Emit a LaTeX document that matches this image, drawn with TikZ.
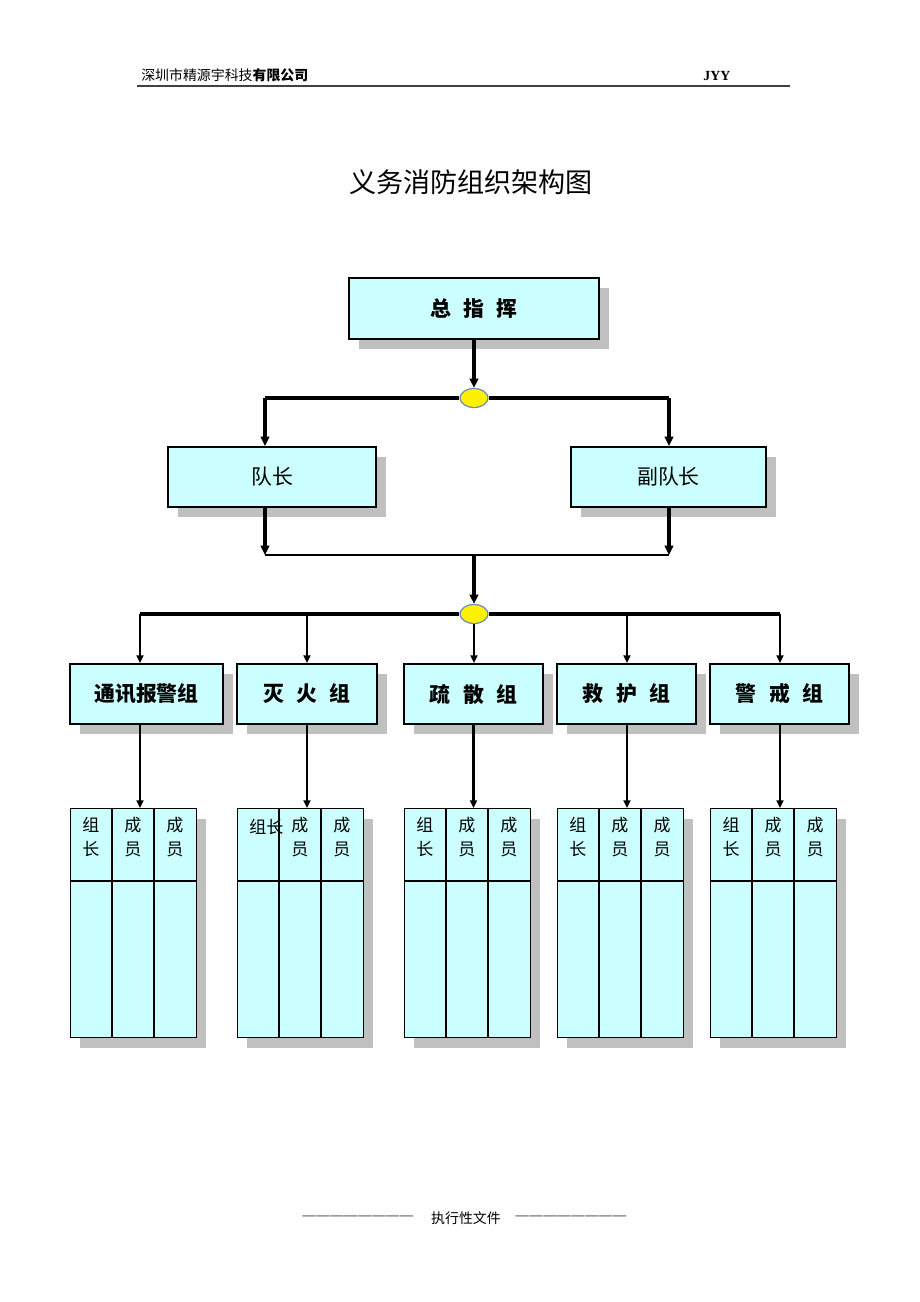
\documentclass[tikz,border=0pt]{standalone}
\usepackage{fontspec}
\setmainfont{Liberation Serif}
\newfontfamily\cjk{Noto Sans CJK SC}
\usetikzlibrary{arrows.meta,shapes.geometric}
\definecolor{boxfill}{RGB}{204,255,255}
\definecolor{shd}{RGB}{192,192,192}
\definecolor{ellb}{RGB}{110,140,190}
\def\px{0.6467pt}
\begin{document}
\begin{tikzpicture}[x=0.6467pt,y=-0.6467pt,
  box/.style={draw=black, line width=1.3pt, fill=boxfill, inner sep=0pt,
    preaction={fill=shd, draw=none, transform canvas={xshift=6.5pt, yshift=-6.5pt}},
    font=\cjk\fontsize{13.5}{15}\selectfont\bfseries},
  tbl/.style={draw=black, line width=0.8pt, fill=boxfill, inner sep=0pt,
    minimum width=126*\px, minimum height=229*\px,
    preaction={fill=shd, draw=none, transform canvas={xshift=5.8pt, yshift=-6.5pt}}},
  junc/.style={ellipse, draw=ellb, line width=0.8pt, fill=yellow, minimum width=28*\px, minimum height=19*\px, inner sep=0pt},
  thick/.style={line width=2pt},
  arr/.style={-{Triangle[length=6pt,width=5.5pt]}},
  sarr/.style={-{Triangle[length=5pt,width=4.5pt]}},
  cell/.style={font=\cjk\fontsize{11}{15.5}\selectfont, align=center, inner sep=0pt}
]
\useasboundingbox (0,0) rectangle (920,1302);
% header
\node[anchor=base west, inner sep=0pt] (hd) at (141,80) {\cjk\fontsize{9}{11}\selectfont 深圳市精源宇科技\bfseries 有限公司};
\node[anchor=base west, inner sep=0pt] (jyy) at (703,80) {\fontsize{9}{11}\selectfont\bfseries JYY};
\coordinate (hl) at (137,86);
\coordinate (hr) at (790,86);
\draw[line width=1pt, black!75] (hl) -- (hr);
% title
\node[font=\cjk\fontsize{17.5}{20}\selectfont] (title) at (471,182) {义务消防组织架构图};

% top
\node[box, minimum width=250*\px, minimum height=61*\px] (top) at (474,308.5) {总\hspace{0.6em}指\hspace{0.6em}挥};
\node[junc] (e1) at (474,398) {};
\draw[thick, arr] (top.south) -- (e1.north);
\node[box, minimum width=208*\px, minimum height=60*\px, font=\cjk\fontsize{13.5}{15}\selectfont] (dz) at (272,477) {队长};
\node[box, minimum width=195*\px, minimum height=60*\px, font=\cjk\fontsize{13.5}{15}\selectfont] (fdz) at (668.5,477) {副队长};
\coordinate (l1) at (265,398);
\coordinate (r1) at (669,398);
\draw[thick] (l1) -- (e1.west);
\draw[thick] (e1.east) -- (r1);
\draw[thick, arr] (l1) -- (l1 |- dz.north);
\draw[thick, arr] (r1) -- (r1 |- fdz.north);
% merge
\coordinate (l2) at (265,555);
\coordinate (r2) at (669,555);
\coordinate (m2) at (474,555);
\draw[thick, arr] (l2 |- dz.south) -- (l2);
\draw[thick, arr] (r2 |- fdz.south) -- (r2);
\draw[line width=1.5pt] (l2) -- (r2);
\node[junc] (e2) at (474,614) {};
\draw[thick, arr] (m2) -- (e2.north);
% groups
\node[box, minimum width=153*\px, minimum height=60*\px] (g1) at (146.5,694) {通讯报警组};
\node[box, minimum width=140*\px, minimum height=60*\px] (g2) at (307,694) {灭\hspace{0.6em}火\hspace{0.6em}组};
\node[box, minimum width=139*\px, minimum height=60*\px] (g3) at (473.5,694) {疏\hspace{0.6em}散\hspace{0.6em}组};
\node[box, minimum width=139*\px, minimum height=60*\px] (g4) at (626.5,694) {救\hspace{0.6em}护\hspace{0.6em}组};
\node[box, minimum width=139*\px, minimum height=60*\px] (g5) at (779.5,694) {警\hspace{0.6em}戒\hspace{0.6em}组};
\coordinate (b1) at (140,614);
\coordinate (b2) at (307,614);
\coordinate (b4) at (627,614);
\coordinate (b5) at (780,614);
\draw[thick] (b1) -- (e2.west);
\draw[thick] (e2.east) -- (b5);
\draw[line width=1.3pt, sarr] (b1) -- (b1 |- g1.north);
\draw[line width=1.3pt, sarr] (b2) -- (b2 |- g2.north);
\draw[line width=1.3pt, sarr] (e2.south) -- (e2.south |- g3.north);
\draw[line width=1.3pt, sarr] (b4) -- (b4 |- g4.north);
\draw[line width=1.3pt, sarr] (b5) -- (b5 |- g5.north);
% tables
\foreach \n/\x in {1/70,2/237,3/404,4/557,5/710}{
  \node[tbl, anchor=north west] (t\n) at (\x,808) {};
  \draw[line width=0.8pt] (\x,881) -- (\x+126,881);
  \draw[line width=0.8pt] (\x+42,808) -- (\x+42,1037);
  \draw[line width=0.8pt] (\x+84,808) -- (\x+84,1037);
  \node[cell, anchor=north] (c\n b) at (\x+63,817) {成\\员};
  \node[cell, anchor=north] (c\n c) at (\x+105,817) {成\\员};
}
\foreach \n/\x in {1/70,3/404,4/557,5/710}{
  \node[cell, anchor=north] (c\n a) at (\x+21,817) {组\\长};
}
\node[cell, anchor=west] (c2a) at (249,827) {组长};
\coordinate (d1) at (140,0);
\coordinate (d4) at (627,0);
\coordinate (d5) at (780,0);
\draw[line width=1.3pt, sarr] (g1.south -| d1) -- (t1.north -| d1);
\draw[line width=1.3pt, sarr] (g2.south) -- (g2.south |- t2.north);
\draw[line width=1.3pt, sarr] (g3.south) -- (g3.south |- t3.north);
\draw[line width=1.3pt, sarr] (g4.south -| d4) -- (t4.north -| d4);
\draw[line width=1.3pt, sarr] (g5.south -| d5) -- (t5.north -| d5);
% footer
\node[inner sep=0pt] (fl) at (358,1218) {\fontsize{8.5}{11}\selectfont —\hspace{0.5pt}—\hspace{0.5pt}—\hspace{0.5pt}—\hspace{0.5pt}—\hspace{0.5pt}—\hspace{0.5pt}—\hspace{0.5pt}—};
\node[inner sep=0pt, font=\cjk\fontsize{9}{11}\selectfont] (ft) at (466,1218) {执行性文件};
\node[inner sep=0pt] (fr) at (571,1218) {\fontsize{8.5}{11}\selectfont —\hspace{0.5pt}—\hspace{0.5pt}—\hspace{0.5pt}—\hspace{0.5pt}—\hspace{0.5pt}—\hspace{0.5pt}—\hspace{0.5pt}—};
\end{tikzpicture}
\end{document}
